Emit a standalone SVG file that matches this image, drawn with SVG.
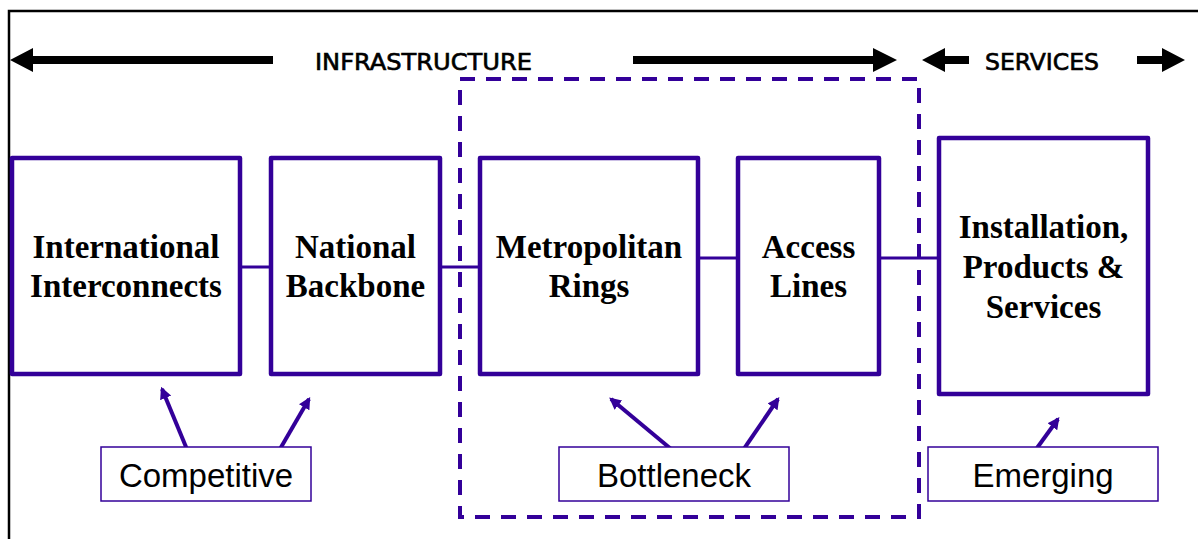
<svg xmlns="http://www.w3.org/2000/svg" width="1198" height="539" viewBox="0 0 1198 539">
<style>
.box{fill:#fff;stroke:#330099;stroke-width:4.5;stroke-linejoin:round}
.lbl{fill:#fff;stroke:#330099;stroke-width:1.5}
.t{font-family:"Liberation Serif","Times New Roman",serif;font-weight:bold;font-size:33px;text-anchor:middle;fill:#000}
.s{font-family:"Liberation Sans",Arial,sans-serif;font-size:33px;text-anchor:middle;fill:#000}
.h{font-family:"DejaVu Sans Condensed","DejaVu Sans","Liberation Sans",sans-serif;font-stretch:condensed;font-size:23px;text-anchor:middle;fill:#000;stroke:#000;stroke-width:0.6}
.conn{stroke:#330099;stroke-width:3;fill:none}
.pa{stroke:#330099;stroke-width:4;fill:none;marker-end:url(#ah)}
.blk{fill:#000}
</style>
<defs>
<marker id="ah" viewBox="0 0 10 10" refX="8" refY="5" markerWidth="3" markerHeight="3" orient="auto" markerUnits="strokeWidth">
<path d="M0,0 L10,5 L0,10 z" fill="#330099"/>
</marker>
</defs>
<rect width="1198" height="539" fill="#fff"/>
<g id="frame">
<path d="M9,539 V11 H1198" fill="none" stroke="#000" stroke-width="2.5"/>
</g>
<g id="header">
<polygon class="blk" points="10,60 33,48 33,56 273,56 273,64 33,64 33,72"/>
<text class="h" x="423.5" y="70" textLength="217" lengthAdjust="spacingAndGlyphs">INFRASTRUCTURE</text>
<polygon class="blk" points="897,60 873,48 873,56 633,56 633,64 873,64 873,72"/>
<polygon class="blk" points="922,60 945,48 945,56 969,56 969,64 945,64 945,72"/>
<text class="h" x="1042" y="70" textLength="114" lengthAdjust="spacingAndGlyphs">SERVICES</text>
<polygon class="blk" points="1185,60 1162,48 1162,56 1137,56 1137,64 1162,64 1162,72"/>
</g>
<g id="bottleneck-zone">
<rect x="460" y="79" width="459" height="438" fill="none" stroke="#330099" stroke-width="4" stroke-dasharray="15 11"/>
</g>
<g id="connectors">
<line class="conn" x1="240" y1="267" x2="271" y2="267"/>
<line class="conn" x1="440" y1="267" x2="480" y2="267"/>
<line class="conn" x1="698" y1="258" x2="738" y2="258"/>
<line class="conn" x1="879" y1="258" x2="938" y2="258"/>
<line class="pa" x1="191" y1="459" x2="162" y2="389"/>
<line class="pa" x1="280" y1="449" x2="309" y2="399"/>
<line class="pa" x1="671" y1="449" x2="611" y2="399"/>
<line class="pa" x1="737" y1="459" x2="778" y2="399"/>
<line class="pa" x1="1037" y1="448" x2="1058" y2="419"/>
</g>
<g id="international">
<rect class="box" x="12" y="158" width="228" height="216"/>
<text class="t" x="126" y="258">International</text>
<text class="t" x="126" y="297">Interconnects</text>
</g>
<g id="national">
<rect class="box" x="271" y="158" width="169" height="216"/>
<text class="t" x="355.5" y="258">National</text>
<text class="t" x="355.5" y="297">Backbone</text>
</g>
<g id="metropolitan">
<rect class="box" x="480" y="158" width="218" height="216"/>
<text class="t" x="589" y="258">Metropolitan</text>
<text class="t" x="589" y="297">Rings</text>
</g>
<g id="access">
<rect class="box" x="738" y="158" width="141" height="216"/>
<text class="t" x="808.5" y="258">Access</text>
<text class="t" x="808.5" y="297">Lines</text>
</g>
<g id="installation">
<rect class="box" x="939" y="138" width="209" height="256"/>
<text class="t" x="1043.5" y="238">Installation,</text>
<text class="t" x="1043.5" y="278">Products &amp;</text>
<text class="t" x="1043.5" y="318">Services</text>
</g>
<g id="competitive">
<rect class="lbl" x="101" y="447" width="210" height="54"/>
<text class="s" x="206" y="487">Competitive</text>
</g>
<g id="bottleneck">
<rect class="lbl" x="559" y="447" width="230" height="54"/>
<text class="s" x="674" y="487">Bottleneck</text>
</g>
<g id="emerging">
<rect class="lbl" x="928" y="447" width="230" height="54"/>
<text class="s" x="1043" y="487">Emerging</text>
</g>
</svg>
